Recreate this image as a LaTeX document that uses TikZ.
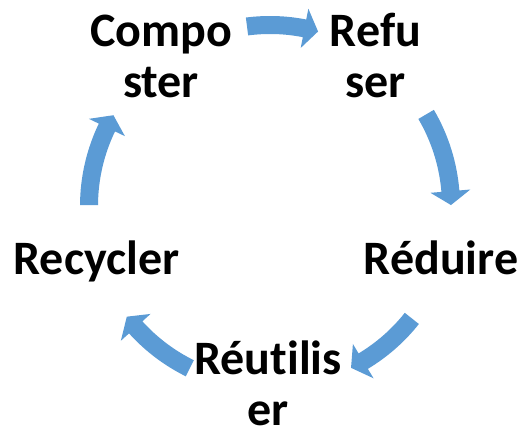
\documentclass[tikz,border=0pt]{standalone}
\usepackage{fontspec}
\setmainfont[Ligatures=NoCommon]{Carlito}
\definecolor{arrowblue}{HTML}{5B9BD5}
\tikzset{
  lbl/.style={font=\fontsize{48}{51}\selectfont\bfseries, align=center, inner sep=0pt, anchor=base, text=black},
  arrowfill/.style={fill=arrowblue}
}
% #1 tail angle, #2 tip angle
\newcommand{\cyclearrow}[2]{%
  \pgfmathsetmacro{\hb}{#2+4.4}%
  \fill[arrowfill] (#1:190) arc[start angle=#1, end angle=\hb, radius=190]
    -- (\hb:201) -- (#2:181) -- (\hb:161) -- (\hb:172)
    arc[start angle=\hb, end angle=#1, radius=172] -- cycle;}
\begin{document}
\begin{tikzpicture}[x=1pt,y=1pt]
\useasboundingbox (0,0) rectangle (520,428);
\node[lbl] (composter) at (161,330) {Compo\\ster};
\node[lbl] (refuser) at (375.5,330) {Refu\\ser};
\node[lbl] (reduire) at (441,153) {Réduire};
\node[lbl] (reutiliser) at (268,2) {Réutilis\\er};
\node[lbl] (recycler) at (96.5,153) {Recycler};
\begin{scope}[shift={(270,222)}]
  \cyclearrow{97.3}{74.6}
  \cyclearrow{30.4}{0.3}
  \cyclearrow{-38.4}{-63.4}
  \cyclearrow{-116.3}{-142.3}
  \cyclearrow{179.7}{149.9}
\end{scope}
\end{tikzpicture}
\end{document}
